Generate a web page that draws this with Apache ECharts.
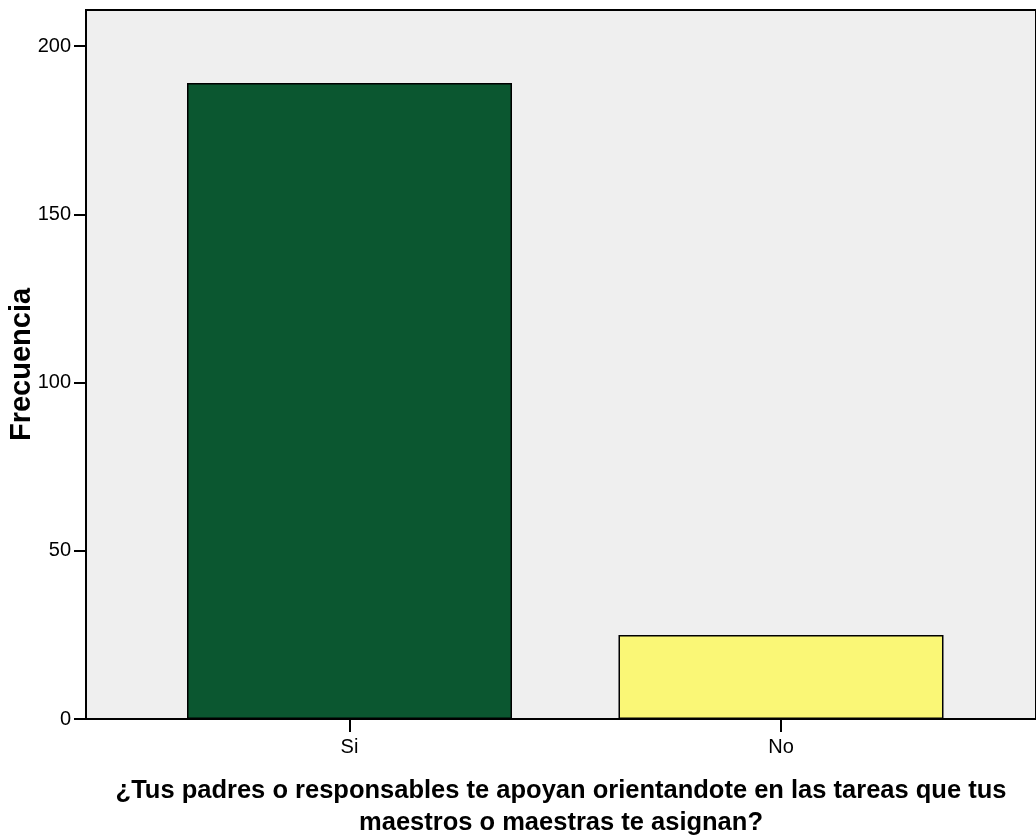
<!DOCTYPE html>
<html>
<head>
<meta charset="utf-8">
<script src="https://cdn.jsdelivr.net/npm/echarts@6/dist/echarts.min.js"></script>
<style>
  html, body { margin: 0; padding: 0; background: #fff; }
  #chart { width: 1036px; height: 838px; }
</style>
</head>
<body>
<div id="chart"></div>
<script>
// datos
const categories = ["Si", "No"];
const frecuencias = [189, 25];
const yTicks = [0, 50, 100, 150, 200];
const xName = "¿Tus padres o responsables te apoyan orientandote en las tareas que tus\nmaestros o maestras te asignan?";
const yName = "Frecuencia";

const barColors = ["#0B5730", "#FAF776"];
const font = "'Liberation Sans Narrow', 'Arial Narrow', 'Liberation Sans', Arial, sans-serif";

// SPSS deja margenes propios a cada lado, por eso eje de valores con las categorias en 1 y 2
const catPos = categories.map((c, i) => i + 1);

const chart = echarts.init(document.getElementById("chart"));

let option = {
  animation: false,
  grid: {
    left: 86,
    right: 0,
    top: 10,
    bottom: 119,
    containLabel: false,
    outerBoundsMode: "none",
    show: true,
    backgroundColor: "#EFEFEF",
    borderColor: "#000",
    borderWidth: 2
  },
  xAxis: {
    type: "value",
    min: 0.3893,
    max: 2.591,
    name: xName,
    nameLocation: "middle",
    nameGap: 56,
    nameTextStyle: {
      fontFamily: font,
      fontWeight: "bold",
      fontSize: 25.5,
      lineHeight: 32,
      color: "#000"
    },
    splitLine: { show: false },
    axisLine: { show: true, onZero: false, lineStyle: { color: "#000", width: 2 } },
    axisTick: {
      show: true,
      length: 13,
      customValues: catPos,
      lineStyle: { color: "#000", width: 2 }
    },
    axisLabel: {
      customValues: catPos,
      margin: 18,
      fontFamily: font,
      fontSize: 20,
      color: "#000",
      formatter: (v) => categories[Math.round(v) - 1] || ""
    }
  },
  yAxis: {
    type: "value",
    min: 0,
    max: 210.7,
    name: yName,
    nameLocation: "middle",
    nameGap: 50,
    nameMoveOverlap: false,
    nameTextStyle: {
      fontFamily: "'Liberation Sans', Arial, sans-serif",
      fontWeight: "bold",
      fontSize: 29,
      color: "#000"
    },
    splitLine: { show: false },
    axisLine: { show: true, lineStyle: { color: "#000", width: 2 } },
    axisTick: {
      show: true,
      length: 12,
      customValues: yTicks,
      lineStyle: { color: "#000", width: 2 }
    },
    axisLabel: {
      customValues: yTicks,
      margin: 15,
      fontFamily: font,
      fontSize: 20,
      color: "#000"
    }
  },
  series: [
    {
      type: "bar",
      barWidth: 325,
      data: categories.map((c, i) => ({
        value: [catPos[i], frecuencias[i]],
        itemStyle: { color: barColors[i] }
      })),
      itemStyle: { borderColor: "#000", borderWidth: 1.5 }
    }
  ]
};

chart.setOption(option);
</script>
</body>
</html>
